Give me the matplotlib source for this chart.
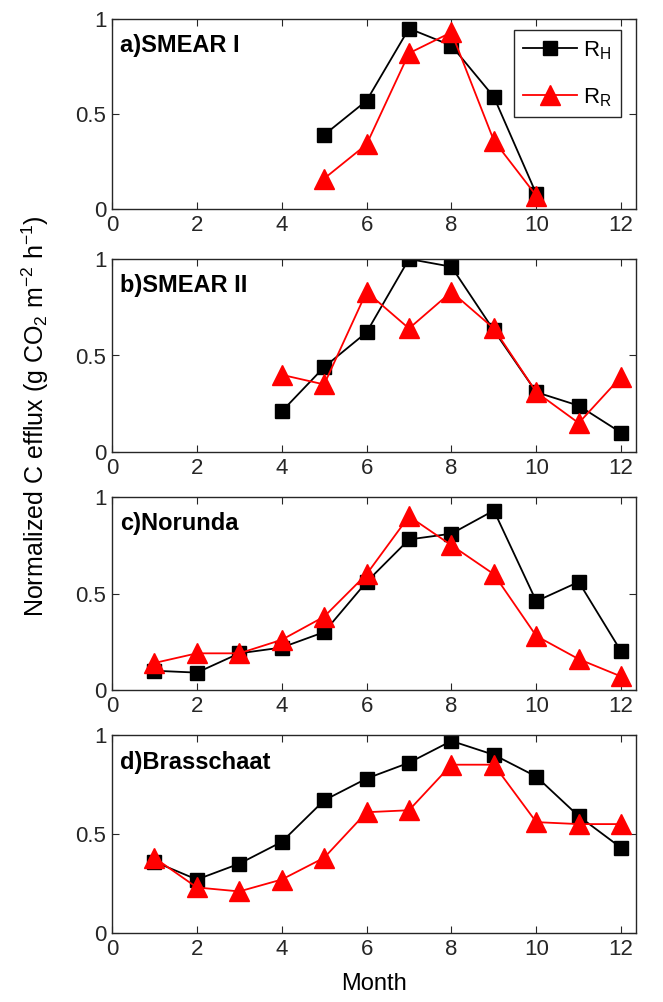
import numpy as np
import matplotlib.pyplot as plt

plt.rcParams['font.family'] = ['Liberation Sans', 'DejaVu Sans']
plt.rcParams['mathtext.fontset'] = 'custom'
plt.rcParams['mathtext.rm'] = 'Liberation Sans'
plt.rcParams['mathtext.it'] = 'Liberation Sans'

sites = ["a)SMEAR I", "b)SMEAR II", "c)Norunda", "d)Brasschaat"]

months_a = [5, 6, 7, 8, 9, 10]
rh_a = [0.39, 0.57, 0.95, 0.86, 0.59, 0.08]
rr_a = [0.16, 0.34, 0.82, 0.93, 0.36, 0.07]

months_b = [4, 5, 6, 7, 8, 9, 10, 11, 12]
rh_b = [0.21, 0.44, 0.62, 1.00, 0.96, 0.63, 0.31, 0.24, 0.10]
rr_b = [0.40, 0.35, 0.83, 0.64, 0.83, 0.64, 0.31, 0.15, 0.39]

months_c = [1, 2, 3, 4, 5, 6, 7, 8, 9, 10, 11, 12]
rh_c = [0.10, 0.09, 0.19, 0.22, 0.30, 0.56, 0.78, 0.81, 0.93, 0.46, 0.56, 0.20]
rr_c = [0.14, 0.19, 0.19, 0.26, 0.38, 0.60, 0.90, 0.75, 0.60, 0.28, 0.16, 0.07]

months_d = [1, 2, 3, 4, 5, 6, 7, 8, 9, 10, 11, 12]
rh_d = [0.36, 0.27, 0.35, 0.46, 0.67, 0.78, 0.86, 0.97, 0.90, 0.79, 0.59, 0.43]
rr_d = [0.38, 0.23, 0.21, 0.27, 0.38, 0.61, 0.62, 0.85, 0.85, 0.56, 0.55, 0.55]

panels = [
    (months_a, rh_a, rr_a),
    (months_b, rh_b, rr_b),
    (months_c, rh_c, rr_c),
    (months_d, rh_d, rr_d),
]

W, H = 663, 1002
fig = plt.figure(figsize=(W / 100, H / 100), dpi=100)

# axes boxes in pixels (left, top, right, bottom)
boxes = [(112, 19, 636, 209), (112, 259, 636, 452), (112, 497, 636, 690), (112, 735, 636, 933)]

for i, (box, (m, rh, rr)) in enumerate(zip(boxes, panels)):
    l, t, r, b = box
    ax = fig.add_axes([l / W, 1 - b / H, (r - l) / W, (b - t) / H])
    ax.plot(m, rh, color="black", marker="s", markersize=10, lw=1.3, label="R$_\\mathrm{H}$")
    ax.plot(m, rr, color="red", marker="^", markersize=15, lw=1.3, label="R$_\\mathrm{R}$")
    ax.set_xlim(0, 12.35)
    ax.set_ylim(0, 1)
    ax.set_xticks(range(0, 13, 2))
    ax.set_yticks([0, 0.5, 1])
    ax.set_yticklabels(["0", "0.5", "1"])
    ax.tick_params(direction="in", top=True, right=True, labelsize=16, length=5, width=0.8,
                   colors="#262626", pad=4)
    for s in ax.spines.values():
        s.set_linewidth(1.0)
        s.set_color("#262626")
    ax.text(0.015, 0.92, sites[i], transform=ax.transAxes, fontsize=17, fontweight="bold", va="top", ha="left")
    if i == 0:
        leg = ax.legend(loc="upper right", bbox_to_anchor=(0.971, 0.942), borderaxespad=0, fontsize=16,
                        fancybox=False, edgecolor="#262626", framealpha=1, handlelength=2.4, borderpad=0.4,
                        labelspacing=1.1, handletextpad=0.3)
        leg.get_frame().set_linewidth(1.0)
    if i == 3:
        ax.set_xlabel("Month", fontsize=17, labelpad=10)

fig.text(35 / W, 1 - 416 / H, "Normalized C efflux (g CO$_2$ m$^{-2}$ h$^{-1}$)", rotation=90,
         ha="center", va="center", fontsize=18)

fig.savefig("out.png", dpi=100)
